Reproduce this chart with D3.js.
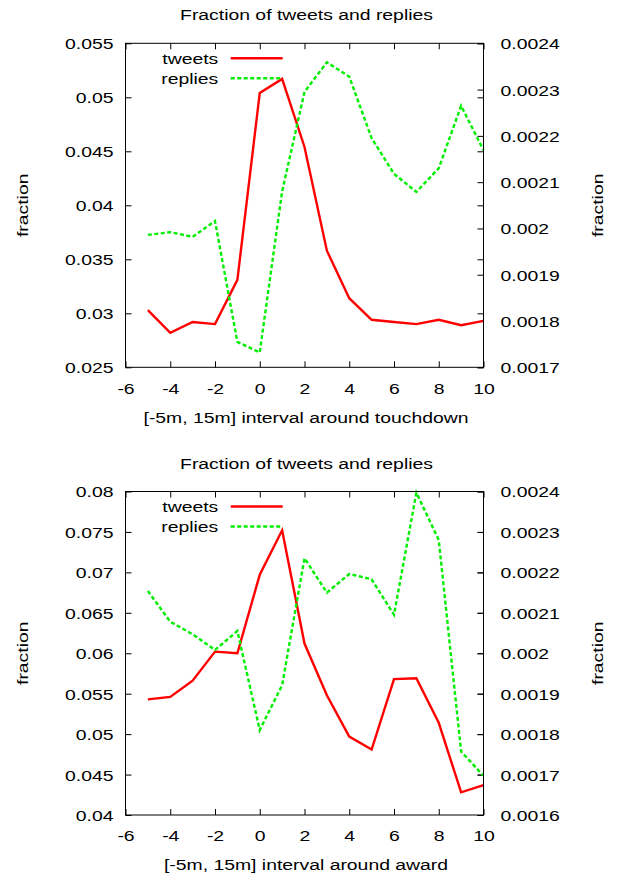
<!DOCTYPE html>
<html>
<head>
<meta charset="utf-8">
<script src="https://cdn.jsdelivr.net/npm/d3@7"></script>
<style>body{margin:0;background:#fff}</style>
</head>
<body>
<svg id="chart" width="618" height="882"></svg>
<script>
// Minutes relative to the event
const minutes = [-5, -4, -3, -2, -1, 0, 1, 2, 3, 4, 5, 6, 7, 8, 9, 10];
const xTicks = [-6, -4, -2, 0, 2, 4, 6, 8, 10];

// Touchdown window
const touchdownTweets  = [0.0303, 0.0282, 0.0292, 0.0290, 0.0331, 0.0504, 0.0517, 0.0454, 0.0358, 0.0314, 0.0294, 0.0292, 0.0290, 0.0294, 0.0289, 0.0293];
const touchdownReplies = [0.001986, 0.001992, 0.001982, 0.002016, 0.001755, 0.001732, 0.00208, 0.002295, 0.002359, 0.002328, 0.002195, 0.002118, 0.002079, 0.00213, 0.002265, 0.002169];
const touchdownLeftTicks  = [0.025, 0.03, 0.035, 0.04, 0.045, 0.05, 0.055];
const touchdownRightTicks = [0.0017, 0.0018, 0.0019, 0.002, 0.0021, 0.0022, 0.0023, 0.0024];

// Award window
const awardTweets  = [0.0543, 0.0546, 0.0566, 0.0602, 0.0600, 0.0697, 0.0752, 0.0612, 0.0548, 0.0497, 0.0481, 0.0568, 0.0569, 0.0514, 0.0428, 0.0437];
const awardReplies = [0.002154, 0.002078, 0.002047, 0.002008, 0.002055, 0.00181, 0.001921, 0.002235, 0.00215, 0.002196, 0.002183, 0.002095, 0.002397, 0.00228, 0.001757, 0.001697];
const awardLeftTicks  = [0.04, 0.045, 0.05, 0.055, 0.06, 0.065, 0.07, 0.075, 0.08];
const awardRightTicks = [0.0016, 0.0017, 0.0018, 0.0019, 0.002, 0.0021, 0.0022, 0.0023, 0.0024];

const titleText = "Fraction of tweets and replies";
const seriesNames = ["tweets", "replies"];

const FONT = "'Liberation Sans', Arial, Helvetica, sans-serif";
const FS = 15.5;      // font size
const SX = 1.25;      // horizontal glyph stretch
const TICK = 6;
const L = 125.5, R = 483.5;
const RED = "#ff0000", GREEN = "#00ee00";

const svg = d3.select("#chart");
const fmt = d => String(+d.toFixed(6));

function label(g, x, y, str, anchor, rot = 0) {
  g.append("text")
    .attr("transform", `translate(${x},${y}) rotate(${rot}) scale(${SX},1)`)
    .attr("text-anchor", anchor)
    .attr("dy", "0.35em")
    .attr("font-family", FONT)
    .attr("font-size", FS)
    .attr("fill", "#000")
    .text(str);
}

function styleAxis(sel) {
  sel.select(".domain").remove();
  sel.attr("font-family", FONT).attr("font-size", FS);
  sel.selectAll("line").attr("stroke", "#000").attr("stroke-width", 1);
  sel.selectAll("text").attr("fill", "#000");
}

function panel(cfg) {
  const g = svg.append("g");
  const x = d3.scaleLinear().domain([xTicks[0], xTicks[xTicks.length - 1]]).range([L, R]);
  const yL = d3.scaleLinear().domain(d3.extent(cfg.leftTicks)).range([cfg.bottom, cfg.top]);
  const yR = d3.scaleLinear().domain(d3.extent(cfg.rightTicks)).range([cfg.bottom, cfg.top]);

  // bottom x axis with labels
  g.append("g").attr("transform", `translate(0,${cfg.bottom})`)
    .call(d3.axisBottom(x).tickValues(xTicks).tickFormat(d => String(d)).tickSizeInner(-TICK).tickSizeOuter(0))
    .call(styleAxis)
    .selectAll("text").attr("y", 21).attr("dy", "0.35em").attr("transform", `scale(${SX},1)`);

  // top mirrored x ticks
  g.append("g").attr("transform", `translate(0,${cfg.top})`)
    .call(d3.axisTop(x).tickValues(xTicks).tickFormat("").tickSizeInner(-TICK).tickSizeOuter(0))
    .call(styleAxis);

  // left y axis
  g.append("g").attr("transform", `translate(${L},0)`)
    .call(d3.axisLeft(yL).tickValues(cfg.leftTicks).tickFormat(fmt).tickSizeInner(-TICK).tickSizeOuter(0).tickPadding(12))
    .call(styleAxis)
    .selectAll("text").attr("x", -12 / SX).attr("dy", "0.35em").attr("transform", `scale(${SX},1)`);

  // left ticks mirrored on the right border
  g.append("g").attr("transform", `translate(${R},0)`)
    .call(d3.axisRight(yL).tickValues(cfg.leftTicks).tickFormat("").tickSizeInner(-TICK).tickSizeOuter(0))
    .call(styleAxis);

  // right y2 axis
  g.append("g").attr("transform", `translate(${R},0)`)
    .call(d3.axisRight(yR).tickValues(cfg.rightTicks).tickFormat(fmt).tickSizeInner(-TICK).tickSizeOuter(0).tickPadding(17))
    .call(styleAxis)
    .selectAll("text").attr("x", 17 / SX).attr("dy", "0.35em").attr("transform", `scale(${SX},1)`);

  // series
  const lineL = d3.line().x((d, i) => x(minutes[i])).y(d => yL(d));
  const lineR = d3.line().x((d, i) => x(minutes[i])).y(d => yR(d));
  g.append("path").datum(cfg.tweets).attr("d", lineL)
    .attr("fill", "none").attr("stroke", RED).attr("stroke-width", 2.4).attr("stroke-linejoin", "miter");
  g.append("path").datum(cfg.replies).attr("d", lineR)
    .attr("fill", "none").attr("stroke", GREEN).attr("stroke-width", 2.4).attr("stroke-dasharray", "4,2.5");

  // border
  g.append("rect").attr("x", L).attr("y", cfg.top).attr("width", R - L).attr("height", cfg.bottom - cfg.top)
    .attr("fill", "none").attr("stroke", "#000").attr("stroke-width", 1);

  // legend
  const ly = [cfg.top + 15, cfg.top + 35];
  label(g, 218.3, ly[0], seriesNames[0], "end");
  label(g, 218.3, ly[1], seriesNames[1], "end");
  g.append("line").attr("x1", 230.7).attr("x2", 282.7).attr("y1", ly[0]).attr("y2", ly[0])
    .attr("stroke", RED).attr("stroke-width", 2.4);
  g.append("line").attr("x1", 230.7).attr("x2", 282.7).attr("y1", ly[1]).attr("y2", ly[1])
    .attr("stroke", GREEN).attr("stroke-width", 2.4).attr("stroke-dasharray", "4,2.5");

  // titles and axis labels
  label(g, 306.5, cfg.top - 28.3, titleText, "middle");
  label(g, 306, cfg.bottom + 50, cfg.xLabel, "middle");
  const midY = (cfg.top + cfg.bottom) / 2;
  label(g, 22.5, midY, "fraction", "middle", -90);
  label(g, 598, midY, "fraction", "middle", -90);
}

panel({
  top: 43.3, bottom: 367.3,
  tweets: touchdownTweets, replies: touchdownReplies,
  leftTicks: touchdownLeftTicks, rightTicks: touchdownRightTicks,
  xLabel: "[-5m, 15m] interval around touchdown"
});
panel({
  top: 491.5, bottom: 815,
  tweets: awardTweets, replies: awardReplies,
  leftTicks: awardLeftTicks, rightTicks: awardRightTicks,
  xLabel: "[-5m, 15m] interval around award"
});
</script>
</body>
</html>
